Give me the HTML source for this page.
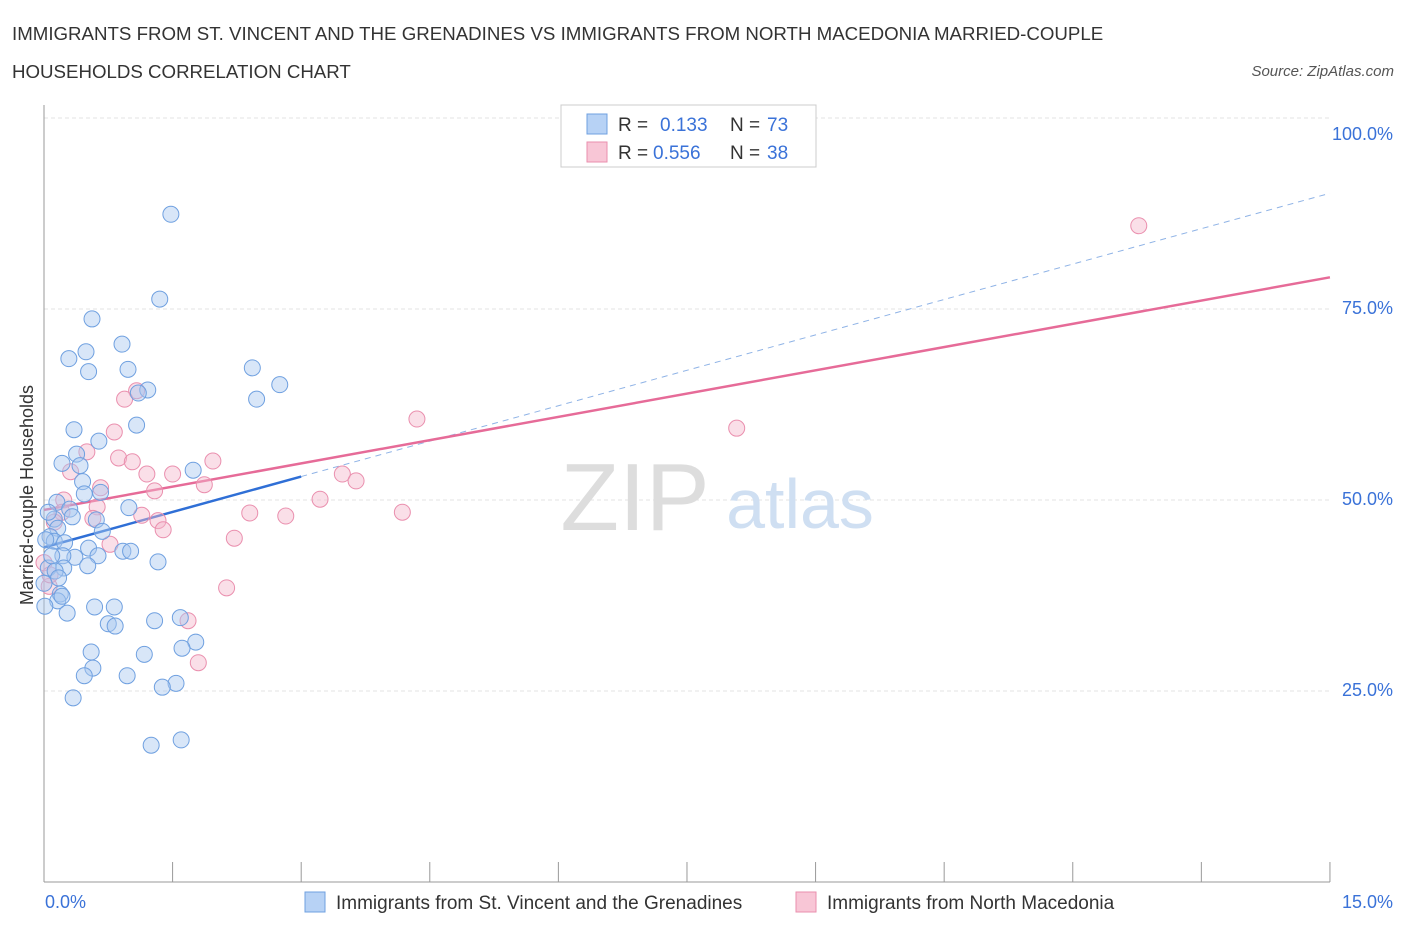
<!DOCTYPE html>
<html><head><meta charset="utf-8"><style>
body{margin:0;background:#fff;font-family:"Liberation Sans",sans-serif}
svg text{font-family:"Liberation Sans",sans-serif}
</style></head><body>
<svg id="chart" width="1406" height="930" xmlns="http://www.w3.org/2000/svg">
<text x="12" y="40" font-size="18.7" fill="#333">IMMIGRANTS FROM ST. VINCENT AND THE GRENADINES VS IMMIGRANTS FROM NORTH MACEDONIA MARRIED-COUPLE</text>
<text x="12" y="78" font-size="18.7" fill="#333">HOUSEHOLDS CORRELATION CHART</text>
<text x="1394" y="76" font-size="15" fill="#555" font-style="italic" text-anchor="end">Source: ZipAtlas.com</text>
<text x="33" y="495" font-size="18" fill="#333" text-anchor="middle" transform="rotate(-90 33 495)">Married-couple Households</text>
<g id="grid"></g>
<text x="635" y="530" font-size="96" fill="#ddd" font-family="Liberation Serif" text-anchor="middle">ZIP</text>
<text x="800" y="528" font-size="70" fill="#cfdff2" text-anchor="middle">atlas</text>
<g id="axes"></g>
<g id="lines"></g>
<g id="pts"></g>
<g>
<rect x="561" y="105" width="255" height="62" fill="#fff" stroke="#ccc"/>
<rect x="587" y="114" width="20" height="20" fill="#b7d2f5" stroke="#6fa0e0"/>
<text x="618" y="131" font-size="19" fill="#333">R =</text>
<text x="660" y="131" font-size="19" fill="#3a72d8">0.133</text>
<text x="730" y="131" font-size="19" fill="#333">N =</text>
<text x="767" y="131" font-size="19" fill="#3a72d8">73</text>
<rect x="587" y="142" width="20" height="20" fill="#f8c6d6" stroke="#ea8fae"/>
<text x="618" y="159" font-size="19" fill="#333">R =</text>
<text x="653" y="159" font-size="19" fill="#3a72d8">0.556</text>
<text x="730" y="159" font-size="19" fill="#333">N =</text>
<text x="767" y="159" font-size="19" fill="#3a72d8">38</text>
</g>
<g>
<rect x="305" y="892" width="20" height="20" fill="#b7d2f5" stroke="#6fa0e0"/>
<text x="336" y="909" font-size="19" fill="#333">Immigrants from St. Vincent and the Grenadines</text>
<rect x="796" y="892" width="20" height="20" fill="#f8c6d6" stroke="#ea8fae"/>
<text x="827" y="909" font-size="19" fill="#333">Immigrants from North Macedonia</text>
</g>
</svg>
<script>
const blueX=[1.48,1.35,0.56,0.91,0.49,0.29,0.52,0.98,2.43,2.75,1.21,1.10,2.48,1.08,0.35,0.64,0.38,0.21,0.42,1.74,0.45,0.66,0.47,0.15,0.99,0.30,0.33,0.61,0.12,0.16,0.68,0.07,0.12,0.24,0.52,0.36,0.22,0.63,0.92,1.01,1.33,0.51,0.05,0.23,0.13,0.17,0.0,0.19,0.16,0.01,0.59,0.82,0.27,1.29,1.59,0.75,0.83,1.77,1.61,0.55,1.17,0.57,0.47,0.97,1.54,1.38,0.34,1.25,1.60,0.05,0.09,0.02,0.21];
const blueY=[87.4,76.3,73.7,70.4,69.4,68.5,66.8,67.1,67.3,65.1,64.4,64.0,63.2,59.8,59.2,57.7,56.0,54.8,54.5,53.9,52.4,51.0,50.8,49.7,49.0,48.8,47.8,47.4,47.5,46.3,45.9,45.2,44.6,44.4,43.7,42.5,42.7,42.7,43.3,43.3,41.9,41.4,41.1,41.1,40.7,39.8,39.1,37.7,36.8,36.1,36.0,36.0,35.2,34.2,34.6,33.8,33.5,31.4,30.6,30.1,29.8,28.0,27.0,27.0,26.0,25.5,24.1,17.9,18.6,48.4,42.7,44.8,37.4];
const pinkX=[12.77,4.35,8.08,1.08,0.94,0.82,0.50,0.87,1.03,1.97,0.31,1.20,1.50,3.48,3.64,1.87,0.66,1.29,0.23,3.22,0.62,0.21,2.40,2.82,4.18,0.57,1.14,1.33,1.39,0.12,0.77,2.22,0.0,0.06,2.13,1.68,1.80,0.07];
const pinkY=[85.9,60.6,59.4,64.3,63.2,58.9,56.3,55.5,55.0,55.1,53.7,53.4,53.4,53.4,52.5,52.0,51.6,51.2,50.0,50.1,49.1,48.4,48.3,47.9,48.4,47.6,48.0,47.3,46.1,47.1,44.2,45.0,41.8,38.7,38.5,34.2,28.7,40.2];
const yTicks=[25,50,75,100];
const yTickLabels=["25.0%","50.0%","75.0%","100.0%"];
const xTicks=[0,1.5,3,4.5,6,7.5,9,10.5,12,13.5,15];
const blueTrend=[43.8,3.09]; const pinkTrend=[48.7,2.03];
const NS="http://www.w3.org/2000/svg";
const sx=v=>44+v*85.73, sy=v=>882-v*7.64;
function mk(t,a,p){const e=document.createElementNS(NS,t);for(const k in a)e.setAttribute(k,a[k]);p.appendChild(e);return e;}
const grid=document.getElementById('grid'),axes=document.getElementById('axes');
yTicks.forEach((v,i)=>{
 const l=mk('line',{x1:44,x2:1330,y1:sy(v),y2:sy(v),stroke:'#e3e3e3','stroke-dasharray':'4,3'},grid);
 
 
 const t=mk('text',{x:1393,y:sy(v)-(v==100?-22:-5),'font-size':18,fill:'#3a72d8','text-anchor':'end'},axes);
 t.textContent=yTickLabels[i];
 
 
});
mk('line',{x1:44,x2:44,y1:105,y2:882,stroke:'#999'},axes);
mk('line',{x1:44,x2:1330,y1:882,y2:882,stroke:'#999'},axes);
xTicks.forEach(v=>{const l=mk('line',{x1:sx(v),x2:sx(v),y1:862,y2:882,stroke:'#999'},axes);
 
 });
let t=mk('text',{x:45,y:908,'font-size':18,fill:'#3a72d8'},axes);t.textContent="0.0%";


t=mk('text',{x:1393,y:908,'font-size':18,fill:'#3a72d8','text-anchor':'end'},axes);t.textContent="15.0%";


const pts=document.getElementById('pts');
pinkX.forEach((x,i)=>{const c=mk('circle',{cx:sx(x),cy:sy(pinkY[i]),r:8,fill:'rgba(245,184,203,0.45)',stroke:'#ea8fae','stroke-width':1},pts);
 
 });
blueX.forEach((x,i)=>{const c=mk('circle',{cx:sx(x),cy:sy(blueY[i]),r:8,fill:'rgba(169,200,240,0.45)',stroke:'#6fa0e0','stroke-width':1},pts);
 
 });
const lines=document.getElementById('lines');
const f=(tr,x)=>tr[0]+tr[1]*x;
let l=mk('line',{x1:sx(3),y1:sy(f(blueTrend,3)),x2:sx(15),y2:sy(f(blueTrend,15)),stroke:'#8fb3e6','stroke-width':1,'stroke-dasharray':'6,5'},lines);


l=mk('line',{x1:sx(0),y1:sy(f(pinkTrend,0)),x2:sx(15),y2:sy(f(pinkTrend,15)),stroke:'#e66b98','stroke-width':2.5},lines);


l=mk('line',{x1:sx(0),y1:sy(f(blueTrend,0)),x2:sx(3),y2:sy(f(blueTrend,3)),stroke:'#2f6fd6','stroke-width':2.5},lines);


</script>
</body></html>
